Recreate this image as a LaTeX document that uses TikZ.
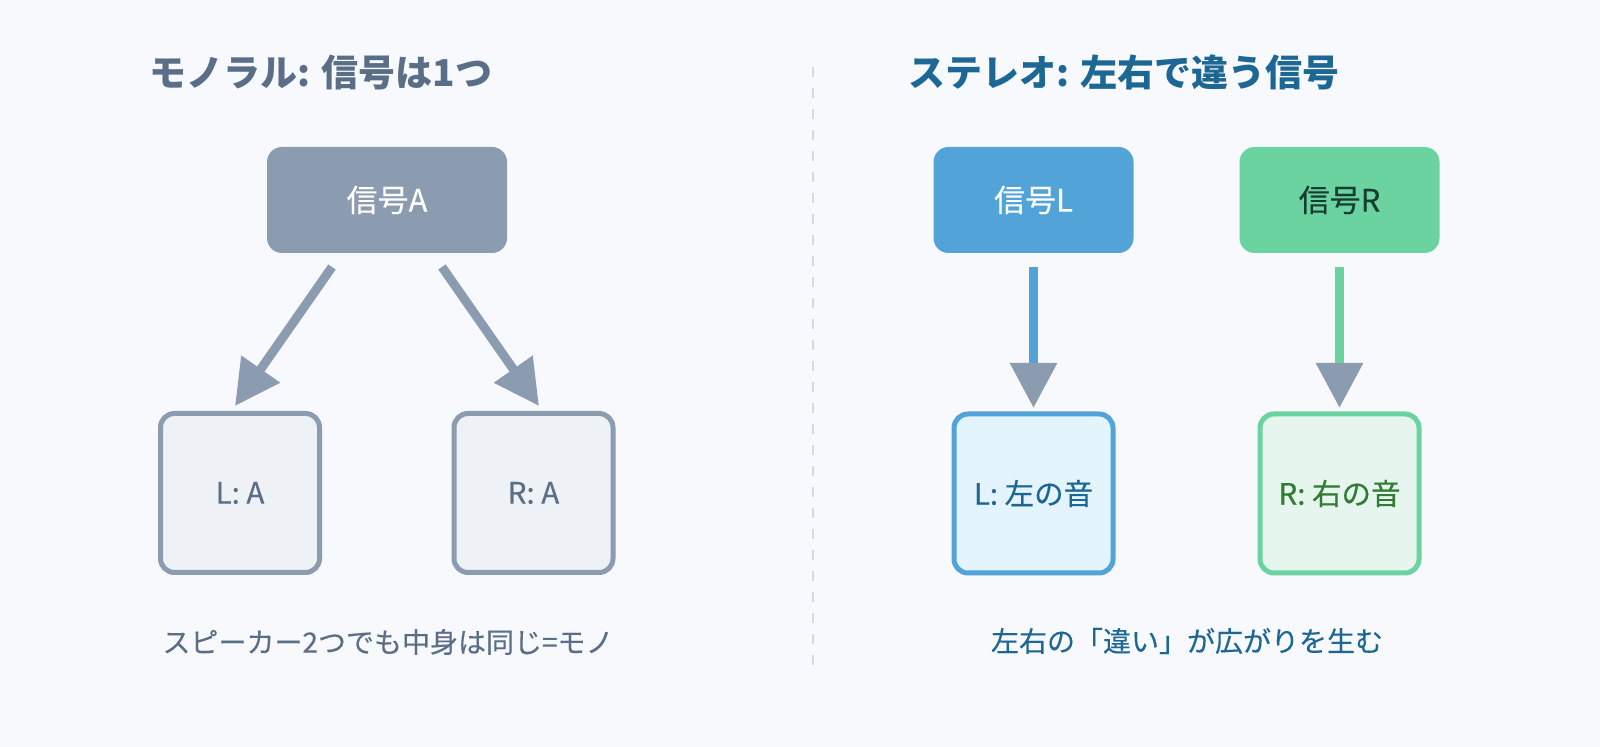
\documentclass[tikz,border=0pt]{standalone}
\usepackage{fontspec}
\setmainfont{Noto Sans CJK JP}
\newfontfamily\jpmed[FakeBold=0.45]{Noto Sans CJK JP}
\newfontfamily\jpsemi[FakeBold=0.2]{Noto Sans CJK JP}
\usetikzlibrary{arrows.meta,calc}
\definecolor{bg}{HTML}{F7F9FC}
\definecolor{slate}{HTML}{8B9BB0}
\definecolor{slatetxt}{HTML}{5A6E87}
\definecolor{bluef}{HTML}{52A3D8}
\definecolor{greenf}{HTML}{6BD3A0}
\definecolor{bluetxt}{HTML}{1D6794}
\definecolor{greentxt}{HTML}{2E7D32}
\definecolor{darkgreen}{HTML}{173C31}
\definecolor{lightslate}{HTML}{EEF2F6}
\definecolor{lightblue}{HTML}{E3F4FC}
\definecolor{lightgreen}{HTML}{E6F6EE}
\definecolor{divider}{HTML}{D5DAE1}
\begin{document}
\begin{tikzpicture}[x=0.5pt,y=-0.5pt,
  titletext/.style={anchor=base west, inner sep=0pt, font=\bfseries\fontsize{18.5pt}{22pt}\selectfont},
  captext/.style={inner sep=0pt, font=\jpsemi\fontsize{14pt}{17pt}\selectfont},
  srcbox/.style={rounded corners=7.5pt, minimum height=53pt, inner sep=0pt, outer sep=0pt, font=\jpsemi\fontsize{15.5pt}{18pt}\selectfont},
  outbox/.style={rounded corners=7pt, line width=2.5pt, minimum width=79.5pt, minimum height=79.5pt, inner sep=0pt, font=\jpmed\fontsize{14.75pt}{17pt}\selectfont},
  conn/.style={line width=4.5pt, -{Triangle[length=22.5pt,width=22.5pt,color=slate]}}
]
\useasboundingbox (0,0) rectangle (1600,747);
\fill[bg] (0,0) rectangle (1600,747);

% divider
\draw[divider, line width=1pt, dash pattern=on 5pt off 5.5pt] (813,67) -- (813,672);

% titles
\node[titletext, text=slatetxt] (t1) at (149,87) {モノラル: 信号は1つ};
\node[titletext, text=bluetxt] (t2) at (908,87) {ステレオ: 左右で違う信号};

% mono
\node[srcbox, fill=slate, text=white, minimum width=120pt] (A) at (387,200) {信号A};
\node[outbox, draw=slate, fill=lightslate, text=slatetxt] (LA) at (240,493) {L: A};
\node[outbox, draw=slate, fill=lightslate, text=slatetxt] (RA) at (533.5,493) {R: A};
\draw[conn, slate] ($(A.south)+(-55,14)$) -- ($(LA.north)+(-5,-5)$);
\draw[conn, slate] ($(A.south)+(55,14)$) -- ($(RA.north)+(5.5,-5)$);
\node[captext, text=slatetxt] (c1) at (388,642) {スピーカー2つでも中身は同じ=モノ};

% stereo
\node[srcbox, fill=bluef, text=white, minimum width=100pt] (SL) at (1033.5,200) {信号L};
\node[srcbox, fill=greenf, text=darkgreen, minimum width=100pt] (SR) at (1339.5,200) {信号R};
\node[outbox, draw=bluef, fill=lightblue, text=bluetxt] (OL) at (1033.5,493.5) {L: 左の音};
\node[outbox, draw=greenf, fill=lightgreen, text=greentxt] (OR) at (1339.5,493.5) {R: 右の音};
\draw[conn, bluef] ($(SL.south)+(0,14)$) -- ($(OL.north)+(0,-3.5)$);
\draw[conn, greenf] ($(SR.south)+(0,14)$) -- ($(OR.north)+(0,-3.5)$);
\node[captext, text=bluetxt] (c2) at (1187,641) {左右の「違い」が広がりを生む};
\end{tikzpicture}
\end{document}
